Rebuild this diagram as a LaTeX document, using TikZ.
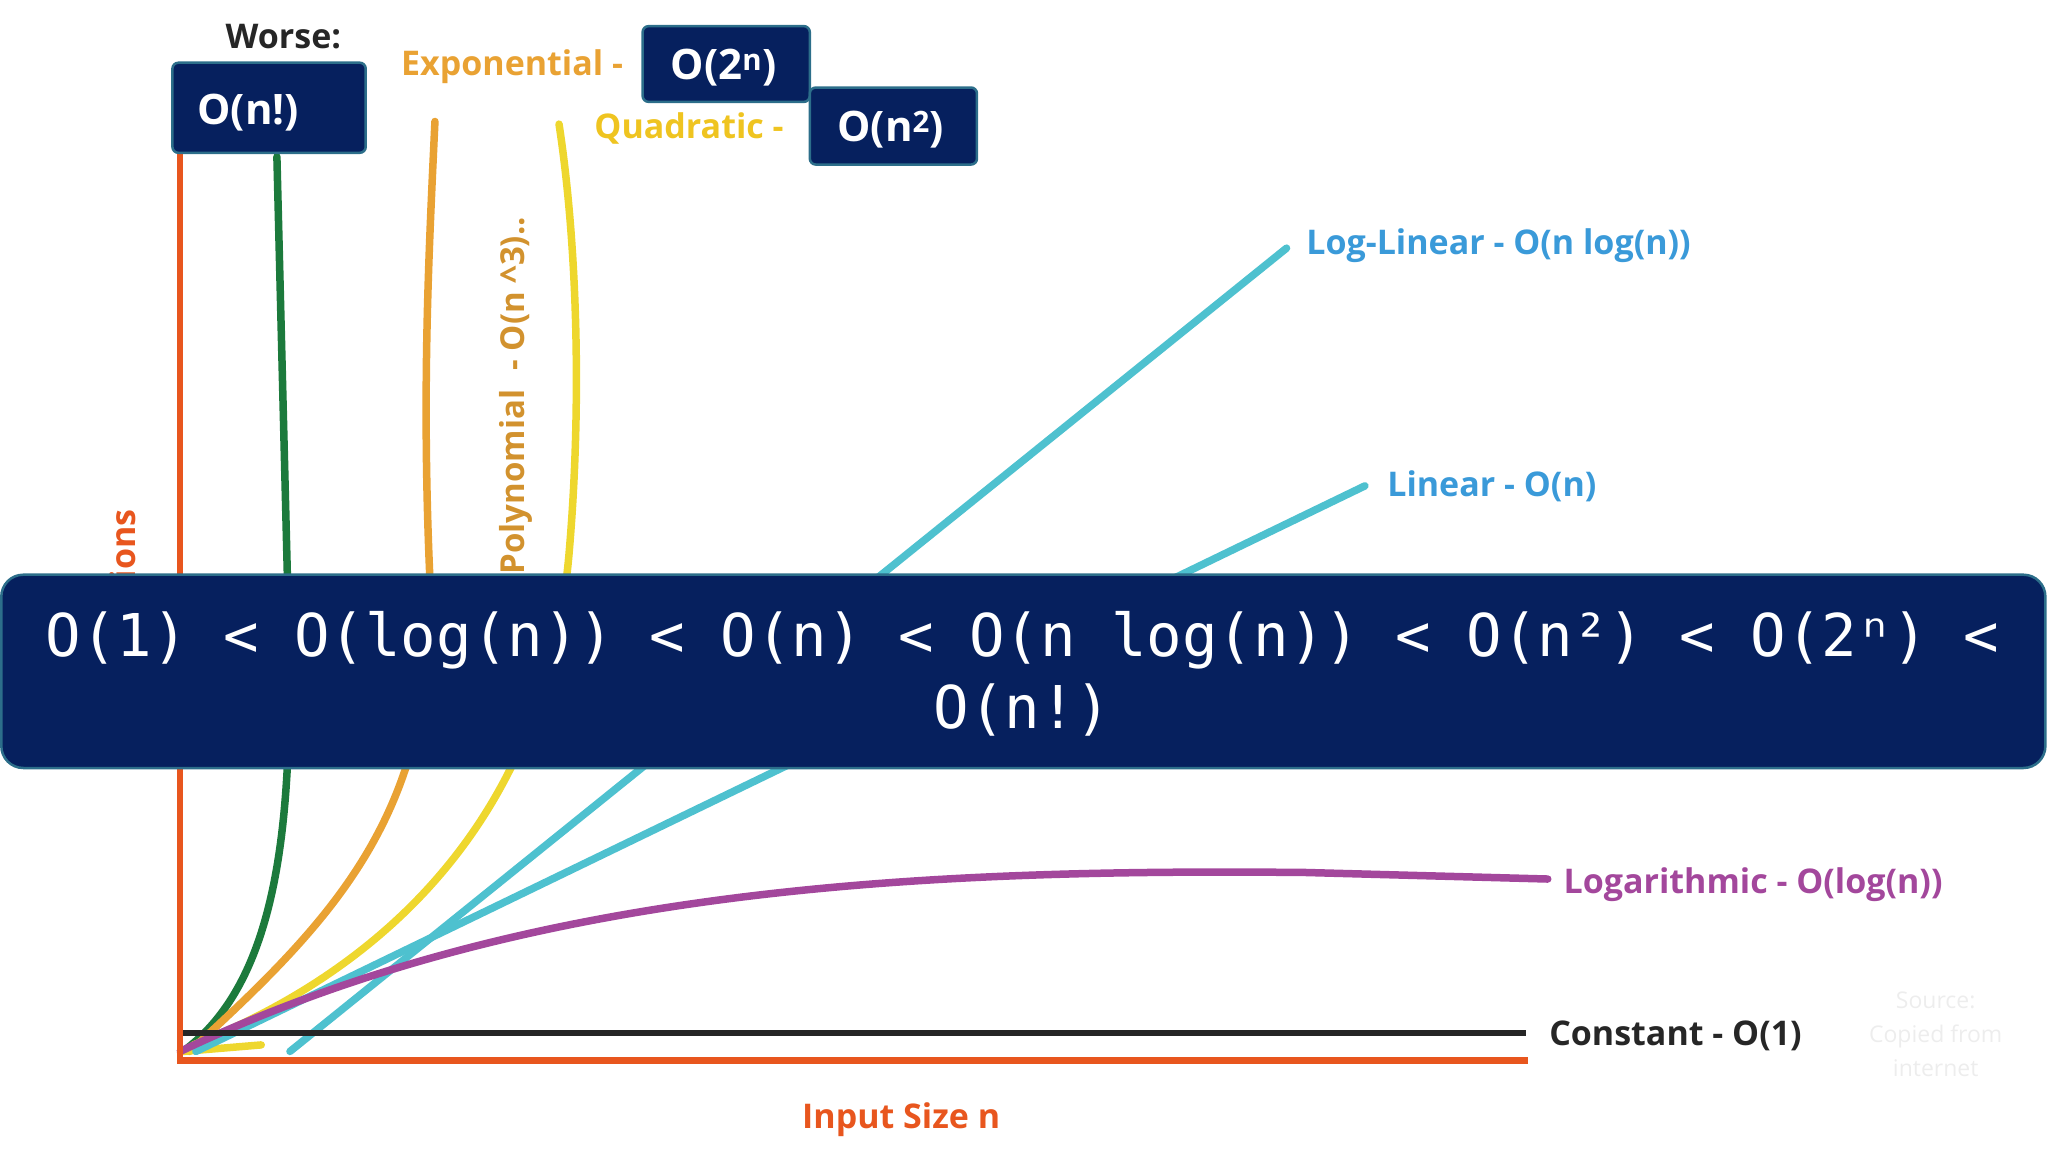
\documentclass[tikz,border=0pt]{standalone}
\usepackage{fontspec}
\setmainfont{Open Sans}
\newfontfamily\monof{DejaVu Sans Mono}
\definecolor{navy}{HTML}{06205E}
\definecolor{bord}{HTML}{2C6E8A}
\definecolor{axis}{HTML}{E8561E}
\definecolor{cyanl}{HTML}{4EC1CF}
\definecolor{bluet}{HTML}{3A9AD9}
\definecolor{purp}{HTML}{A3479C}
\definecolor{orng}{HTML}{E9A233}
\definecolor{yel}{HTML}{EED72E}
\definecolor{yelt}{HTML}{EFC420}
\definecolor{grn}{HTML}{1C7A3C}
\begin{document}
\begin{tikzpicture}[x=1.306pt,y=-1.306pt,
  lbl/.style={anchor=west,font=\bfseries\fontsize{34}{38}\selectfont,inner sep=0},
  crv/.style={line width=7.5pt,line cap=round},
  btxt/.style={text=white,font=\bfseries\fontsize{42}{46}\selectfont},
  sbox/.style={draw=bord,line width=2.5pt,fill=navy,rounded corners=6pt}]
\useasboundingbox (0,0) rectangle (1568,882);
% y label (mostly hidden)
\node[rotate=90,anchor=east,text=axis,font=\bfseries\fontsize{34}{38}\selectfont,inner sep=0] (ylab) at (97,390) {Operations};
% curves
\draw[crv,grn] (140,805) .. controls (222,745) and (225,600) .. (220,440) -- (212,120);
\draw[crv,orng] (145,805) .. controls (260,700) and (335,620) .. (329,440) .. controls (323,300) and (328,200) .. (333,93);
\draw[crv,yel] (140,805) -- (200,800);
\draw[crv,yel] (148,800) .. controls (300,740) and (420,620) .. (436,420) .. controls (446,300) and (441,180) .. (428,95);
\draw[crv,cyanl] (222,805) -- (985,190);
\draw[crv,cyanl] (150,805) -- (1045,372);
\draw[crv,purp] (138,805) .. controls (400,680) and (700,665) .. (1000,668) -- (1185,673);
\draw[line width=5.5pt,black!85] (138,791) -- (1168,791);
\draw[line width=6.5pt,axis] (138,115) -- (138,812) -- (1170,812);
% labels
\node[lbl,text=bluet] (ll) at (1000,188) {Log-Linear - O(n log(n))};
\node[lbl,text=bluet] (lin) at (1062,372) {Linear - O(n)};
\node[lbl,text=purp] (lg) at (1197,677) {Logarithmic - O(log(n))};
\node[lbl,text=black!85] (ct) at (1186,793) {Constant - O(1)};
\node[lbl,text=orng] (ex) at (307,51) {Exponential -};
\node[lbl,text=yelt] (qd) at (455,98) {Quadratic -};
\node[text=black!85,font=\bfseries\fontsize{34}{38}\selectfont] (ws) at (217,28) {Worse:};
\node[rotate=90,anchor=west,text=orng!90!black,font=\bfseries\fontsize{33}{36}\selectfont,inner sep=0] (poly) at (395,440) {Polynomial\,\, - O(n \^{}3)..};
\node[text=axis,font=\bfseries\fontsize{34}{38}\selectfont] (inp) at (690,857) {Input Size n};
\node[text=black!7,align=center,font=\fontsize{23}{34}\selectfont] (src) at (1482,792) {Source:\\Copied from\\internet};
% boxes
\draw[sbox] (132,48) rectangle (280,117);
\node[btxt] (b1) at (190,86) {O(n!)};
\draw[sbox] (492,20) rectangle (620,78);
\node[btxt] (b2) at (554,52) {O(2\textsuperscript{n})};
\draw[sbox] (620,67) rectangle (748,126);
\node[btxt] (b3) at (682,99) {O(n\textsuperscript{2})};
\draw[draw=bord,line width=2.5pt,fill=navy,rounded corners=22pt] (1,440) rectangle (1566,588);
\node[text=white,align=center,font=\monof\fontsize{59}{72}\selectfont] (main) at (783,516) {O(1) < O(log(n)) < O(n) < O(n log(n)) < O(n²) < O(2ⁿ) <\\O(n!)};
\end{tikzpicture}
\end{document}
